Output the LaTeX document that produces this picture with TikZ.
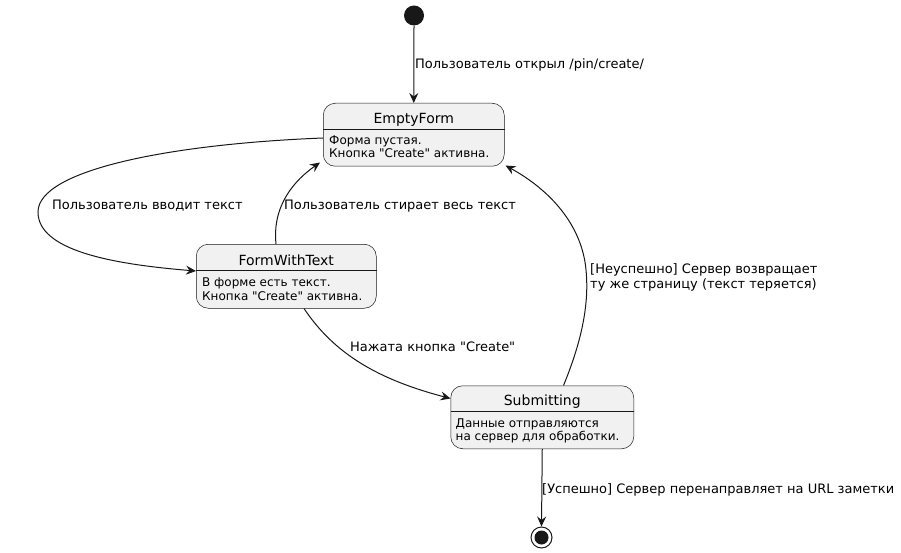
\documentclass[tikz,border=0pt]{standalone}
\usepackage{fontspec}
\setmainfont{DejaVu Sans}[Ligatures=TeXOff]
\usetikzlibrary{arrows.meta}
\definecolor{edgegray}{HTML}{181818}
\definecolor{statefill}{HTML}{F1F1F1}
\tikzset{
  statebox/.style={draw=edgegray, fill=statefill, line width=0.5pt, rounded corners=12pt, anchor=north west, inner sep=0pt},
  statename/.style={anchor=base, inner sep=0pt, font=\fontsize{14}{16}\selectfont},
  statetext/.style={anchor=base west, inner sep=0pt, align=left, font=\fontsize{12}{13.5}\selectfont},
  edgelabel/.style={anchor=base west, inner sep=0pt, align=left, font=\fontsize{13}{15}\selectfont},
  trans/.style={draw=edgegray, line width=1pt, -{Stealth[length=10pt,width=9pt,inset=3.5pt]}},
}
\begin{document}
\begin{tikzpicture}[x=1pt, y=-1pt]
  \useasboundingbox (0,0) rectangle (901,553);
  \node[circle, fill=edgegray, minimum size=20pt, inner sep=0pt] (start) at (414,15.5) {};
  \node[statebox, minimum width=181pt, minimum height=63pt] (empty) at (323,103) {};
  \node[statebox, minimum width=180pt, minimum height=64pt] (fwt) at (196,244) {};
  \node[statebox, minimum width=183pt, minimum height=63pt] (sub) at (450.5,385.5) {};
  \node[circle, draw=edgegray, line width=1pt, minimum size=21pt, inner sep=0pt] (stop) at (541.5,537.5) {};
  \node[circle, fill=edgegray, minimum size=14pt, inner sep=0pt] (stopdot) at (stop) {};
  \draw[edgegray, line width=0.5pt] ([yshift=-26pt]empty.north west) -- ([yshift=-26pt]empty.north east);
  \draw[edgegray, line width=0.5pt] ([yshift=-26pt]fwt.north west) -- ([yshift=-26pt]fwt.north east);
  \draw[edgegray, line width=0.5pt] ([yshift=-25.5pt]sub.north west) -- ([yshift=-25.5pt]sub.north east);
  \node[statename] (emptyname) at ([yshift=-21pt]empty.north) {EmptyForm};
  \node[statename] (fwtname) at ([yshift=-21pt]fwt.north) {FormWithText};
  \node[statename] (subname) at ([yshift=-20pt]sub.north) {Submitting};
  \node[statetext] (emptytext) at ([xshift=6pt,yshift=-55pt]empty.north west) {Форма пустая.\\Кнопка "Create" активна.};
  \node[statetext] (fwttext) at ([xshift=6pt,yshift=-56pt]fwt.north west) {В форме есть текст.\\Кнопка "Create" активна.};
  \node[statetext] (subtext) at ([xshift=5pt,yshift=-55pt]sub.north west) {Данные отправляются\\на сервер для обработки.};
  \draw[trans] (start.south) -- (empty.north);
  \draw[trans] ([yshift=-35pt]empty.north west) .. controls (170,144) and (38,170) .. (38,212)
    .. controls (38,250) and (110,264) .. ([yshift=-27pt]fwt.north west);
  \draw[trans] ([xshift=80pt]fwt.north west) .. controls (272,205) and (295,180) .. ([xshift=-3pt,yshift=4pt]empty.south west);
  \draw[trans] ([xshift=108pt]fwt.south west) .. controls (335,355) and (380,380) .. ([yshift=-13pt]sub.north west);
  \draw[trans] ([xshift=113pt]sub.north west) .. controls (578,350) and (590,310) .. (586,270)
    .. controls (582,225) and (550,190) .. ([xshift=1pt,yshift=1pt]empty.south east);
  \draw[trans] (sub.south) -- (stop.north);
  \node[edgelabel] (lopen) at (415,69) {Пользователь открыл /pin/create/};
  \node[edgelabel] (ltype) at (52,210) {Пользователь вводит текст};
  \node[edgelabel] (lerase) at (284,210) {Пользователь стирает весь текст};
  \node[edgelabel] (lpress) at (350,351) {Нажата кнопка "Create"};
  \node[edgelabel] (lfail) at (590,288) {[Неуспешно] Сервер возвращает\\ту же страницу (текст теряется)};
  \node[edgelabel] (lok) at (542,493) {[Успешно] Сервер перенаправляет на URL заметки};
\end{tikzpicture}
\end{document}
